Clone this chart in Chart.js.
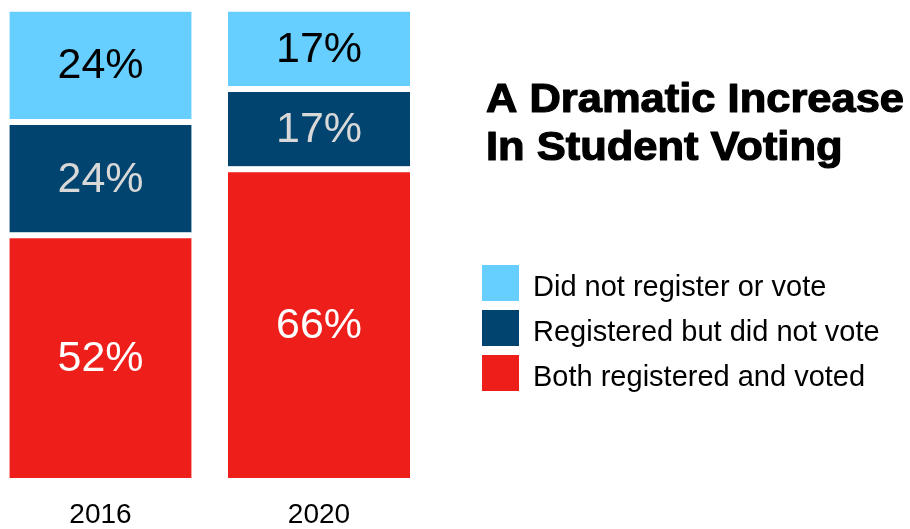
<!DOCTYPE html>
<html>
<head>
<meta charset="utf-8">
<style>
  html, body { margin: 0; padding: 0; background: #ffffff; }
  #wrap { width: 910px; height: 529px; position: relative; }
</style>
<script src="https://cdn.jsdelivr.net/npm/chart.js@4/dist/chart.umd.min.js"></script>
</head>
<body>
<div id="wrap"><canvas id="c" width="910" height="529"></canvas></div>
<script>
// ---- data ----
const categories = ['2016', '2020'];
const seriesNames = ['Both registered and voted', 'Registered but did not vote', 'Did not register or vote'];
const votedValues = [52, 66];
const registeredNotVotedValues = [24, 17];
const notRegisteredValues = [24, 17];
const titleLines = ['A Dramatic Increase', 'In Student Voting'];

// ---- styles ----
const colors = ['#EE1E1A', '#014470', '#66CFFF'];
const labelColors = ['#FFFFFF', '#D8D8D8', '#000000'];
const FONT = '"Liberation Sans", Arial, Helvetica, sans-serif';
const GAP = 6;

const seriesValues = [votedValues, registeredNotVotedValues, notRegisteredValues];

const datasets = seriesValues.map((vals, i) => ({
  label: seriesNames[i],
  data: vals,
  backgroundColor: colors[i],
  borderColor: '#FFFFFF',
  borderWidth: { top: GAP, right: 0, bottom: 0, left: 0 },
  borderSkipped: false,
  barThickness: 182,
  clip: false,
  labelColor: labelColors[i]
}));

const segmentLabels = {
  id: 'segmentLabels',
  afterDatasetsDraw(chart) {
    const ctx = chart.ctx;
    ctx.save();
    ctx.font = '43px ' + FONT;
    ctx.textAlign = 'center';
    ctx.textBaseline = 'middle';
    chart.data.datasets.forEach((ds, i) => {
      const meta = chart.getDatasetMeta(i);
      meta.data.forEach((el, j) => {
        const top = Math.min(el.y, el.base) + GAP;
        const bottom = Math.max(el.y, el.base);
        ctx.fillStyle = ds.labelColor;
        ctx.fillText(ds.data[j] + '%', el.x, (top + bottom) / 2 + 1);
      });
    });
    ctx.restore();
  }
};

const titleAndLegend = {
  id: 'titleAndLegend',
  afterDraw(chart) {
    const ctx = chart.ctx;
    ctx.save();
    ctx.fillStyle = '#000000';
    ctx.strokeStyle = '#000000';
    ctx.lineWidth = 1.2;
    ctx.lineJoin = 'round';
    ctx.textAlign = 'left';
    ctx.textBaseline = 'alphabetic';
    ctx.font = 'bold 40px ' + FONT;
    const w = ctx.measureText(titleLines[0]).width;
    const sx = 418 / w;
    ctx.save();
    ctx.translate(486, 0);
    ctx.scale(sx, 1);
    titleLines.forEach((t, k) => {
      ctx.fillText(t, 0, 112 + k * 48);
      ctx.strokeText(t, 0, 112 + k * 48);
    });
    ctx.restore();

    ctx.font = '29px ' + FONT;
    const order = chart.data.datasets.map((d, i) => i).reverse();
    order.forEach((i, k) => {
      const ds = chart.data.datasets[i];
      const cy = 283 + k * 45;
      ctx.fillStyle = ds.backgroundColor;
      ctx.fillRect(482, cy - 18, 37, 36);
      ctx.fillStyle = '#000000';
      ctx.fillText(ds.label, 533, cy + 13);
    });
    ctx.restore();
  }
};

new Chart(document.getElementById('c'), {
  type: 'bar',
  data: { labels: categories, datasets: datasets },
  options: {
    responsive: false,
    animation: false,
    devicePixelRatio: 1,
    layout: { padding: { left: 100.5, right: 591, top: 6, bottom: -23 } },
    plugins: { legend: { display: false }, tooltip: { enabled: false }, title: { display: false } },
    scales: {
      x: {
        stacked: true,
        offset: false,
        grid: { display: false, drawTicks: false },
        border: { display: false },
        ticks: { color: '#000000', padding: 23, font: { family: FONT, size: 28, lineHeight: 1 } }
      },
      y: {
        stacked: true,
        display: false,
        min: 0,
        max: 100
      }
    }
  },
  plugins: [segmentLabels, titleAndLegend]
});
</script>
</body>
</html>
